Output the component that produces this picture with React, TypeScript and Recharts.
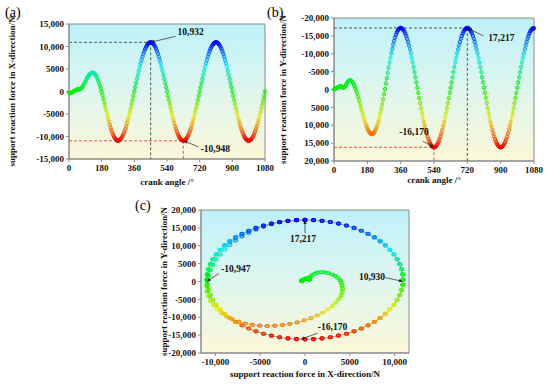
import React from 'react'
import { LineChart, Line, ScatterChart, Scatter, XAxis, YAxis, ReferenceArea, ReferenceLine, ReferenceDot } from 'recharts'

// crank angle sampled every 5 degrees, 0..1080
const ANGLE_STEP = 5

// support reaction force in X-direction, N
const forceX = [
  -300, -400, -350, -250, -100, 50, 150, 250, 350, 450, 500, 450, 500, 600, 800, 1100, 1400, 1800, 2200, 2600, 3000, 3350, 3650, 3900, 4050, 4150, 4200,
  4150, 4010, 3780, 3450, 3040, 2550, 1980, 1350, 660, -90, -870, -1690, -2520, -3370, -4220, -5050, -5870, -6650, -7400, -8090, -8720, -9290, -9780, -10190, -10520, -10750, -10890, -10940,
  -10900, -10770, -10570, -10280, -9920, -9470, -8960, -8380, -7740, -7030, -6280, -5470, -4620, -3740, -2830, -1900, -950, 0,
  950, 1900, 2830, 3740, 4620, 5470, 6280, 7030, 7740, 8380, 8960, 9470, 9920, 10280, 10570, 10770, 10900, 10932,
  10900, 10770, 10570, 10280, 9920, 9470, 8960, 8380, 7740, 7030, 6280, 5470, 4620, 3740, 2830, 1900, 950, 0,
  -950, -1900, -2830, -3740, -4620, -5470, -6280, -7030, -7740, -8380, -8960, -9470, -9920, -10280, -10570, -10770, -10900, -10948,
  -10900, -10770, -10570, -10280, -9920, -9470, -8960, -8380, -7740, -7030, -6280, -5470, -4620, -3740, -2830, -1900, -950, 0,
  950, 1900, 2830, 3740, 4620, 5470, 6280, 7030, 7740, 8380, 8960, 9470, 9920, 10280, 10570, 10770, 10900, 10930,
  10900, 10770, 10570, 10280, 9920, 9470, 8960, 8380, 7740, 7030, 6280, 5470, 4620, 3740, 2830, 1900, 950, 0,
  -950, -1900, -2830, -3740, -4620, -5470, -6280, -7030, -7740, -8380, -8960, -9470, -9920, -10280, -10570, -10770, -10900, -10947,
  -10900, -10770, -10570, -10280, -9920, -9470, -8960, -8380, -7740, -7030, -6280, -5470, -4620, -3740, -2830, -1900, -950, 0,
]

// support reaction force in Y-direction, N, as read on the panel (b) axis
const forceY = [
  0, -150, -300, -450, -600, -750, -850, -900, -850, -600, -500, -600, -900, -1300, -1800, -2200, -2500, -2600, -2540,
  -2340, -2030, -1590, -1050, -400, 340, 1160, 2050, 2980, 3940, 4930, 5910, 6870, 7810, 8690, 9510, 10250, 10900, 11440, 11880, 12190, 12390, 12450,
  12370, 12150, 11770, 11250, 10590, 9790, 8870, 7840, 6700, 5460, 4150, 2770, 1330, -140, -1630, -3140, -4630, -6100, -7540, -8920, -10230, -11460, -12610, -13640, -14560, -15350, -16020, -16540, -16910, -17140, -17217,
  -17150, -16960, -16650, -16210, -15650, -14980, -14200, -13310, -12330, -11250, -10100, -8870, -7580, -6230, -4840, -3420, -1980, -520,
  930, 2380, 3800, 5190, 6530, 7820, 9050, 10210, 11280, 12270, 13150, 13930, 14610, 15160, 15600, 15920, 16110, 16170,
  16110, 15920, 15600, 15160, 14610, 13930, 13150, 12270, 11280, 10210, 9050, 7820, 6530, 5190, 3800, 2380, 930, -520,
  -1980, -3420, -4840, -6230, -7580, -8870, -10100, -11250, -12330, -13310, -14200, -14980, -15650, -16210, -16650, -16960, -17150, -17217,
  -17150, -16960, -16650, -16210, -15650, -14980, -14200, -13310, -12330, -11250, -10100, -8870, -7580, -6230, -4840, -3420, -1980, -520,
  930, 2380, 3800, 5190, 6530, 7820, 9050, 10210, 11280, 12270, 13150, 13930, 14610, 15160, 15600, 15920, 16110, 16170,
  16110, 15920, 15600, 15160, 14610, 13930, 13150, 12270, 11280, 10210, 9050, 7820, 6530, 5190, 3800, 2380, 930, -520,
  -1980, -3420, -4840, -6230, -7580, -8870, -10100, -11250, -12330, -13310, -14200, -14980, -15650, -16210, -16650, -16960, -17150, -17100,
]

const angleTicks = [0, 180, 360, 540, 720, 900, 1080]
const forceXTicks = [-15000, -10000, -5000, 0, 5000, 10000, 15000]
const forceYTicks = [-20000, -15000, -10000, -5000, 0, 5000, 10000, 15000, 20000]
const planeXTicks = [-10000, -5000, 0, 5000, 10000]

const xMax = { angle: 450, value: 10932 }
const xMin = { angle: 630, value: -10948 }
const yTop = { angle: 720, value: -17217 }
const yBottom = { angle: 540, value: 16170 }

const rowsX = forceX.map((v, i) => ({ angle: i * ANGLE_STEP, value: v }))
const rowsY = forceY.map((v, i) => ({ angle: i * ANGLE_STEP, value: v }))
const rowsXY = forceX.map((v, i) => ({ fx: v, fy: -forceY[i] }))

const SERIF = '"Liberation Serif", "Times New Roman", serif'
const tickFont = { fontFamily: SERIF, fontSize: 9, fontWeight: 700, fill: '#111' }
const titleFont = { fontFamily: SERIF, fontSize: 9, fontWeight: 700, fill: '#111' }
const FRAME = '#8a8a8a'

const fmt = (v: number) => {
  const a = Math.abs(v)
  if (a < 10000) return String(v)
  return (v < 0 ? '-' : '') + Math.floor(a / 1000) + ',' + String(a % 1000).padStart(3, '0')
}

const rainbow = (v: number, lo: number, hi: number) => {
  const t = Math.max(0, Math.min(1, (v - lo) / (hi - lo)))
  return `hsl(${Math.round(t * 240)}, 100%, 47%)`
}

const ringDot = (colorOf: (v: number) => string) => (p: any) => {
  const { cx, cy, payload, index } = p
  if (cx == null || cy == null) return <g key={index} />
  const c = colorOf(payload.value)
  return <circle key={index} cx={cx} cy={cy} r={1.7} fill={c} fillOpacity={0.25} stroke={c} strokeWidth={1} />
}

const ovalDot = (p: any) => {
  const c = rainbow(p.payload.fy, -16170, 17217)
  return <ellipse cx={p.cx} cy={p.cy} rx={2} ry={1.5} fill={c} fillOpacity={0.3} stroke={c} strokeWidth={1.2} />
}

function Callout(props: any) {
  const { viewBox, text, tx, ty, ax, ay } = props
  if (!viewBox) return null
  const px = viewBox.x + (viewBox.width || 0) / 2
  const py = viewBox.y + (viewBox.height || 0) / 2
  const len = Math.hypot(ax, ay)
  const ux = ax / len, uy = ay / len
  const hx = px + ux * 4, hy = py + uy * 4
  const nx = -uy * 1.6, ny = ux * 1.6
  return (
    <g>
      <line x1={px + ax} y1={py + ay} x2={hx} y2={hy} stroke="#222" strokeWidth={0.7} />
      <polygon points={`${px},${py} ${hx + nx},${hy + ny} ${hx - nx},${hy - ny}`} fill="#222" />
      <text x={px + tx} y={py + ty} textAnchor="middle" dominantBaseline="central" fontFamily={SERIF} fontSize={9.5} fontWeight={700} fill="#111">{text}</text>
    </g>
  )
}

function Grad({ id }: { id: string }) {
  return (
    <defs>
      <linearGradient id={id} x1="0" y1="0" x2="0" y2="1">
        <stop offset="0%" stopColor="#bff1fa" />
        <stop offset="50%" stopColor="#def6ee" />
        <stop offset="100%" stopColor="#fcf7d8" />
      </linearGradient>
    </defs>
  )
}

const dashBlack = { stroke: '#333', strokeDasharray: '3 2', strokeWidth: 0.8 }
const dashRed = { stroke: '#e23030', strokeDasharray: '3 2', strokeWidth: 0.8 }

export default function App() {
  return (
    <div style={{ position: 'absolute', left: 0, top: 0, width: 550, height: 384, background: '#fff', fontFamily: SERIF }}>
      <div style={{ position: 'absolute', left: 0, top: 0 }}>
        <LineChart width={275} height={192} data={rowsX} margin={{ top: 24, right: 10, bottom: 0, left: 0 }}>
          <Grad id="bgA" />
          <XAxis type="number" dataKey="angle" domain={[0, 1080]} ticks={angleTicks} interval={0} tick={tickFont} tickSize={3} tickMargin={3}
            axisLine={{ stroke: FRAME }} tickLine={{ stroke: FRAME }} height={33}
            label={{ value: 'crank angle /°', position: 'insideBottom', offset: 7, ...titleFont }} />
          <YAxis type="number" domain={[-15000, 15000]} ticks={forceXTicks} interval={0} tickFormatter={fmt} tick={tickFont} tickSize={3} tickMargin={2}
            axisLine={{ stroke: FRAME }} tickLine={{ stroke: FRAME }} width={69}
            label={{ value: 'support reaction force in X-direction/N', angle: -90, position: 'insideLeft', offset: 12, style: { textAnchor: 'middle' }, ...titleFont }} />
          <ReferenceArea x1={0} x2={1080} y1={-15000} y2={15000} fill="url(#bgA)" fillOpacity={1} stroke={FRAME} strokeWidth={1} />
          <ReferenceLine segment={[{ x: 0, y: xMax.value }, { x: xMax.angle, y: xMax.value }]} {...dashBlack} />
          <ReferenceLine segment={[{ x: 0, y: xMin.value }, { x: xMin.angle, y: xMin.value }]} {...dashRed} />
          <ReferenceLine segment={[{ x: xMin.angle, y: xMin.value }, { x: xMin.angle, y: -15000 }]} {...dashRed} />
          <ReferenceLine segment={[{ x: xMax.angle, y: xMax.value }, { x: xMax.angle, y: -15000 }]} {...dashBlack} />
          <Line type="linear" dataKey="value" stroke="#888" strokeWidth={0.5} isAnimationActive={false}
            dot={ringDot((v) => rainbow(v, -10948, 10932))} activeDot={false} legendType="none" />
          <ReferenceDot x={xMax.angle} y={xMax.value} r={1} fill="none" stroke="none"
            label={<Callout text="10,932" tx={40} ty={-10} ax={25} ay={-6} />} />
          <ReferenceDot x={xMin.angle} y={xMin.value} r={1} fill="none" stroke="none"
            label={<Callout text="-10,948" tx={32} ty={8.5} ax={15} ay={6} />} />
        </LineChart>
      </div>

      <div style={{ position: 'absolute', left: 275, top: 0 }}>
        <LineChart width={275} height={192} data={rowsY} margin={{ top: 18, right: 16, bottom: 0, left: 0 }}>
          <Grad id="bgB" />
          <XAxis type="number" dataKey="angle" domain={[0, 1080]} ticks={angleTicks} interval={0} tick={tickFont} tickSize={3} tickMargin={3}
            axisLine={{ stroke: FRAME }} tickLine={{ stroke: FRAME }} height={31}
            label={{ value: 'crank angle /°', position: 'insideBottom', offset: 9, ...titleFont }} />
          <YAxis type="number" domain={[-20000, 20000]} reversed ticks={forceYTicks} interval={0} tickFormatter={fmt} tick={tickFont} tickSize={3} tickMargin={2}
            axisLine={{ stroke: FRAME }} tickLine={{ stroke: FRAME }} width={59}
            label={{ value: 'support reaction force in Y-direction/N', angle: -90, position: 'insideLeft', offset: 8, style: { textAnchor: 'middle' }, ...titleFont }} />
          <ReferenceArea x1={0} x2={1080} y1={-20000} y2={20000} fill="url(#bgB)" fillOpacity={1} stroke={FRAME} strokeWidth={1} />
          <ReferenceLine segment={[{ x: 0, y: yTop.value }, { x: yTop.angle, y: yTop.value }]} {...dashBlack} />
          <ReferenceLine segment={[{ x: 0, y: yBottom.value }, { x: yBottom.angle, y: yBottom.value }]} {...dashRed} />
          <ReferenceLine segment={[{ x: yBottom.angle, y: yBottom.value }, { x: yBottom.angle, y: 20000 }]} {...dashRed} />
          <ReferenceLine segment={[{ x: yTop.angle, y: yTop.value }, { x: yTop.angle, y: 20000 }]} {...dashBlack} />
          <Line type="linear" dataKey="value" stroke="#888" strokeWidth={0.5} isAnimationActive={false}
            dot={ringDot((v) => rainbow(-v, -16170, 17217))} activeDot={false} legendType="none" />
          <ReferenceDot x={yTop.angle} y={yTop.value} r={1} fill="none" stroke="none"
            label={<Callout text="17,217" tx={34} ty={10} ax={16} ay={8} />} />
          <ReferenceDot x={yBottom.angle} y={yBottom.value} r={1} fill="none" stroke="none"
            label={<Callout text="-16,170" tx={-20} ty={-15.5} ax={-11} ay={-6} />} />
        </LineChart>
      </div>

      <div style={{ position: 'absolute', left: 140, top: 200 }}>
        <ScatterChart width={280} height={184} margin={{ top: 10, right: 11, bottom: 0, left: 0 }}>
          <Grad id="bgC" />
          <XAxis type="number" dataKey="fx" domain={[-11600, 11600]} ticks={planeXTicks} interval={0} tickFormatter={fmt} tick={tickFont} tickSize={3} tickMargin={3}
            axisLine={{ stroke: FRAME }} tickLine={{ stroke: FRAME }} height={31}
            label={{ value: 'support reaction force in X-direction/N', position: 'insideBottom', offset: 7, ...titleFont }} />
          <YAxis type="number" dataKey="fy" domain={[-20000, 20000]} ticks={forceYTicks} interval={0} tickFormatter={fmt} tick={tickFont} tickSize={3} tickMargin={2}
            axisLine={{ stroke: FRAME }} tickLine={{ stroke: FRAME }} width={61}
            label={{ value: 'support reaction force in Y-direction/N', angle: -90, position: 'insideLeft', offset: 24, style: { textAnchor: 'middle' }, ...titleFont }} />
          <ReferenceArea x1={-11600} x2={11600} y1={-20000} y2={20000} fill="url(#bgC)" fillOpacity={1} stroke={FRAME} strokeWidth={1} />
          <Scatter data={rowsXY} line={{ stroke: '#888', strokeWidth: 0.5 }} shape={ovalDot} isAnimationActive={false} legendType="none" />
          <ReferenceDot x={0} y={17217} r={1} fill="none" stroke="none"
            label={<Callout text="17,217" tx={-2} ty={19} ax={0} ay={13} />} />
          <ReferenceDot x={-10947} y={0} r={1} fill="none" stroke="none"
            label={<Callout text="-10,947" tx={29} ty={-13} ax={12} ay={-8} />} />
          <ReferenceDot x={10930} y={0} r={1} fill="none" stroke="none"
            label={<Callout text="10,930" tx={-31} ty={-5} ax={-18} ay={-4} />} />
          <ReferenceDot x={-500} y={-16170} r={1} fill="none" stroke="none"
            label={<Callout text="-16,170" tx={32} ty={-12} ax={17} ay={-6} />} />
        </ScatterChart>
      </div>

      <div style={{ position: 'absolute', left: 5, top: 6, fontSize: 14, lineHeight: 1 }}>(a)</div>
      <div style={{ position: 'absolute', left: 267, top: 6, fontSize: 14, lineHeight: 1 }}>(b)</div>
      <div style={{ position: 'absolute', left: 135, top: 199, fontSize: 14, lineHeight: 1 }}>(c)</div>
    </div>
  )
}
